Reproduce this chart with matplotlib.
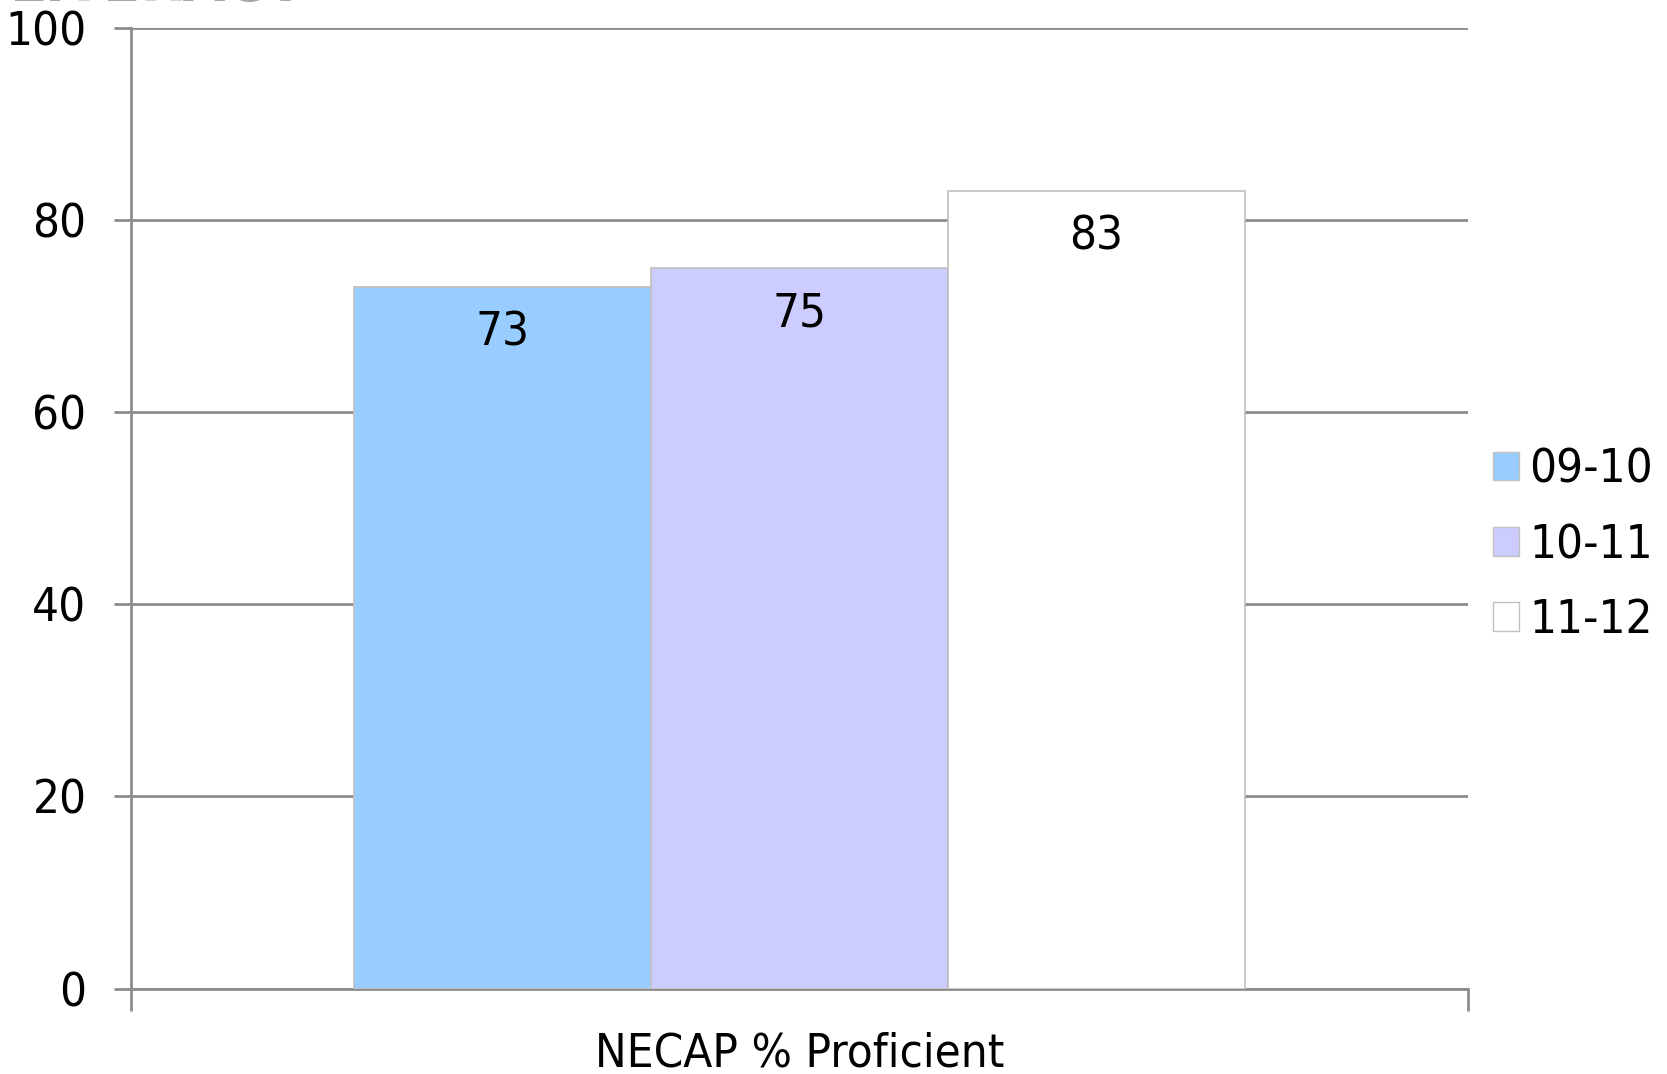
import matplotlib
matplotlib.use("Agg")
import matplotlib.pyplot as plt
from matplotlib.patches import Patch

# Percent proficient by school year
years = ["09-10", "10-11", "11-12"]
scores = [73, 75, 83]
bar_colors = ["#99ccff", "#ccccff", "#ffffff"]
category = "NECAP % Proficient"
yticks = [0, 20, 40, 60, 80, 100]

plt.rcParams["font.family"] = ["DejaVu Sans"]
plt.rcParams["font.stretch"] = "condensed"

fig = plt.figure(figsize=(16.67, 10.74), dpi=100)
ax = fig.add_axes([0.0786, 0.0794, 0.802, 0.8949])

width = 0.222
offsets = [(i - 1) * width for i in range(len(years))]
for off, val, col, lab in zip(offsets, scores, bar_colors, years):
    ax.bar(off, val, width=width, color=col, edgecolor="#c0c0c0",
           linewidth=1.2, zorder=3, label=lab)
    ax.text(off, val - 4.75, str(val), ha="center", va="center",
            fontsize=34, color="black", zorder=4)

ax.set_xlim(-0.5, 0.5)
ax.set_ylim(0, 100)
ax.set_yticks(yticks)
ax.set_yticklabels([str(t) for t in yticks], fontsize=34)
ax.yaxis.grid(True, color="#8c8c8c", linewidth=2, zorder=1)
ax.set_axisbelow(True)

for s in ["top", "right"]:
    ax.spines[s].set_visible(False)
ax.spines["left"].set_color("#8c8c8c")
ax.spines["left"].set_linewidth(2)
ax.spines["bottom"].set_color("#8c8c8c")
ax.spines["bottom"].set_linewidth(2)
ax.tick_params(axis="y", length=12, width=2, color="#8c8c8c", pad=20)
ax.set_xticks([-0.5, 0.5])
ax.set_xticklabels(["", ""])
ax.tick_params(axis="x", length=16, width=2, color="#8c8c8c")
ax.set_xlabel(category, fontsize=34, labelpad=11)

handles = [Patch(facecolor=c, edgecolor="#c0c0c0", label=y)
           for c, y in zip(bar_colors, years)]
fig.legend(handles=handles, loc="center left", bbox_to_anchor=(0.87, 0.492),
           frameon=False, fontsize=34, handlelength=0.55, handleheight=0.55,
           handletextpad=0.22, labelspacing=0.64)

# slide heading cut off at the top edge
fig.text(0.183, 0.9995, "LITERACY", ha="right", va="baseline", fontsize=44,
         fontweight="bold", color="#a6a6a6")

fig.savefig("out.png", dpi=100)
